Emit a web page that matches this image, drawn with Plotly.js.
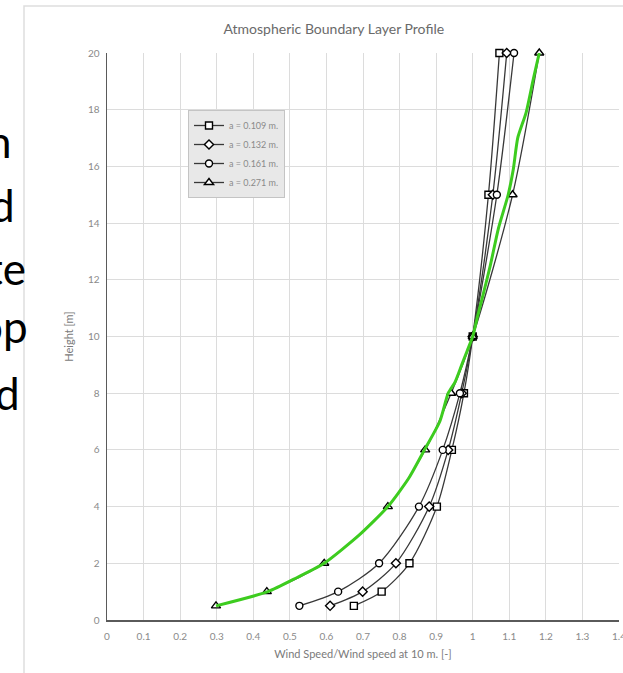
<!DOCTYPE html>
<html>
<head>
<meta charset="utf-8">
<script src="https://cdn.plot.ly/plotly-3.0.1.min.js"></script>
<style>html,body{margin:0;padding:0;background:#fff;}#chart{width:623px;height:673px;}</style>
</head>
<body>
<div id="chart"></div>
<script>
// Heights [m]
var heights = [0.5, 1, 2, 4, 6, 8, 10, 15, 20];
// Normalised wind speed for each roughness a
var a109 = [0.675, 0.751, 0.827, 0.902, 0.943, 0.976, 1.0, 1.043, 1.073];
var a132 = [0.610, 0.699, 0.790, 0.881, 0.933, 0.970, 1.0, 1.055, 1.093];
var a161 = [0.526, 0.632, 0.744, 0.853, 0.918, 0.965, 1.0, 1.066, 1.113];
var a271 = [0.298, 0.437, 0.594, 0.768, 0.870, 0.941, 1.0, 1.109, 1.182];
// Hand-drawn green curve
var greenH = [0.5, 1, 1.5, 2, 3, 4, 5, 6, 7, 8, 8.4, 9, 9.5, 10, 10.7, 11.3, 12.5, 13.8, 15, 15.9, 17, 17.9, 19.1, 20];
var greenX = [0.298, 0.44, 0.52, 0.594, 0.69, 0.768, 0.825, 0.868, 0.91, 0.933, 0.952, 0.970, 0.985, 1.0, 1.013, 1.025, 1.048, 1.070, 1.097, 1.111, 1.123, 1.146, 1.166, 1.182];
var seriesNames = ['a = 0.109 m.', 'a = 0.132 m.', 'a = 0.161 m.', 'a = 0.271 m.'];
var seriesSymbols = ['square', 'diamond', 'circle', 'triangle-up'];
var seriesData = [a109, a132, a161, a271];
var sideText = ['n', 'd', 'te', 'op', 'd'];

var traces = seriesData.map(function (xs, i) {
  return {
    x: xs, y: heights, type: 'scatter', mode: 'lines+markers', name: seriesNames[i],
    cliponaxis: false,
    line: {color: '#383838', width: 1.3, shape: 'spline', smoothing: 0.8},
    marker: {symbol: seriesSymbols[i], size: i === 3 ? 8 : 7, color: '#ffffff', line: {color: '#000000', width: 1.4}}
  };
});
traces.push({
  x: greenX, y: greenH, type: 'scatter', mode: 'lines', showlegend: false, cliponaxis: false,
  line: {color: '#3dcc1f', width: 3, shape: 'spline', smoothing: 0.6}
});

var PX0 = 107, PW = 512, PY0 = 620, PH = 567;
function px(x) { return (x - PX0) / PW; }
function py(y) { return (PY0 - y) / PH; }

var sideRight = [14, 17, 28, 30, 22];
var sideCenter = [141, 205, 268, 326, 393];
var annotations = sideText.map(function (t, i) {
  return {
    text: t, xref: 'paper', yref: 'paper', x: px(sideRight[i]), y: py(sideCenter[i]),
    xanchor: 'right', yanchor: 'middle', showarrow: false,
    font: {family: 'Lato, sans-serif', size: 44, color: '#000000'}
  };
});

var layout = {
  width: 623, height: 673,
  margin: {l: 107, r: 4, t: 53, b: 53},
  paper_bgcolor: '#ffffff', plot_bgcolor: '#ffffff',
  font: {family: 'Lato, sans-serif', color: '#8a8a8a'},
  title: {text: 'Atmospheric Boundary Layer Profile', x: 0.443, xref: 'paper', xanchor: 'center', y: 1 - 29 / 673, yanchor: 'middle',
          font: {family: 'Lato, sans-serif', size: 14, color: '#6a6a6a'}},
  xaxis: {
    range: [0, 1.4], dtick: 0.1, tick0: 0, showgrid: true, gridcolor: '#dcdcdc', gridwidth: 1,
    zeroline: false, showline: true, linecolor: '#5a5a5a', linewidth: 1.5, ticks: '',
    tickfont: {size: 10, color: '#8a8a8a'}, ticklabelstandoff: 6, ticklabeloverflow: 'allow',
    title: {text: 'Wind Speed/Wind speed at 10 m. [-]', font: {size: 11, color: '#7a7a7a'}, standoff: 10}
  },
  yaxis: {
    range: [0, 20], dtick: 2, tick0: 0, showgrid: true, gridcolor: '#dcdcdc', gridwidth: 1,
    zeroline: false, showline: true, linecolor: '#5a5a5a', linewidth: 1.5, ticks: '',
    tickfont: {size: 10, color: '#8a8a8a'}, ticklabelstandoff: 4,
    title: {text: 'Height [m]', font: {size: 11, color: '#7a7a7a'}, standoff: 12}
  },
  legend: {
    x: px(188), y: py(110), xanchor: 'left', yanchor: 'top',
    bgcolor: '#e8e8e8', bordercolor: '#c4c4c4', borderwidth: 1,
    font: {family: 'Lato, sans-serif', size: 9, color: '#8a8a8a'},
    itemwidth: 30
  },
  shapes: [{
    type: 'rect', xref: 'paper', yref: 'paper', layer: 'below',
    x0: px(24), x1: px(640), y0: py(700), y1: py(6),
    line: {color: '#dedede', width: 1.5}, fillcolor: 'rgba(0,0,0,0)'
  }],
  annotations: annotations
};

Plotly.newPlot('chart', traces, layout, {displayModeBar: false, staticPlot: true});
</script>
</body>
</html>
